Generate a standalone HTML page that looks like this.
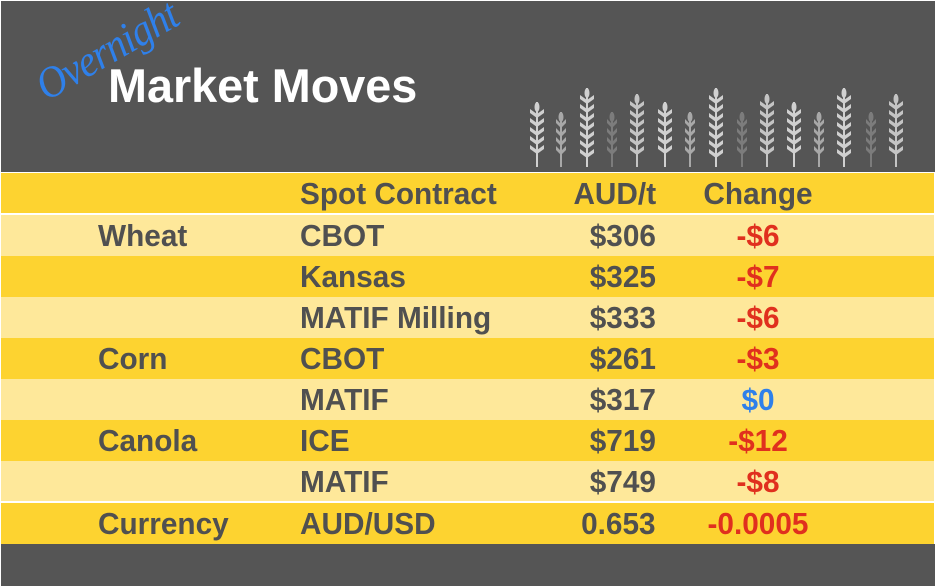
<!DOCTYPE html>
<html><head><meta charset="utf-8"><style>
body{margin:0;width:935px;height:586px;background:#fff;overflow:hidden;font-family:"Liberation Sans",sans-serif}
#wrap{position:absolute;left:1px;top:1px;width:934px;height:585px;background:#555555}
.row{position:absolute;left:1px;width:933px;height:41px;font-weight:bold;font-size:31px;color:#505050}
.row span{position:absolute;top:3px;white-space:nowrap;transform:scaleX(0.96)}
.d{background:#FDD330}.l{background:#FEE89A}
.a{left:97px;transform-origin:left}.b{left:299px;transform-origin:left}.c{right:278px;text-align:right;transform-origin:right}.e{left:700px;width:114px;text-align:center;transform-origin:center}
.r{color:#E0301E}.bl{color:#2F80EA}
</style></head><body><div id="wrap"></div>
<div style="position:absolute;left:1px;top:172px;width:934px;height:372px;background:#fff"></div>
<div style="position:absolute;left:108px;top:58px;font-size:47px;font-weight:bold;color:#fff;transform:scaleX(0.995);transform-origin:left;white-space:nowrap">Market Moves</div>
<div style="position:absolute;left:52px;top:60px;font-size:44px;font-style:italic;color:#2F80EA;font-family:'Liberation Serif',serif;transform:rotate(-30deg) scaleX(0.92);transform-origin:left bottom;letter-spacing:-1px;white-space:nowrap">Overnight</div>
<svg style="position:absolute;left:0;top:0" width="935" height="172">
<g id="st"></g>
</svg>
<script>
var xs=[537,561,587,612,637,665,690,716,742,767,794,819,844,871,896];
var tops=[102,112,88,112,94,102,112,88,112,94,102,112,88,112,94];
var cols=['#d0d0d0','#a8a8a8','#d0d0d0','#7c7c7c','#c4c4c4','#d0d0d0','#a8a8a8','#d0d0d0','#7c7c7c','#c4c4c4','#d0d0d0','#a8a8a8','#d0d0d0','#7c7c7c','#c4c4c4'];
var s='';
for(var i=0;i<15;i++){var x=xs[i],t=tops[i],c=cols[i],w=(t==112?5:7);
s+='<line x1="'+x+'" y1="'+t+'" x2="'+x+'" y2="167" stroke="'+c+'" stroke-width="2"/>';
s+='<ellipse cx="'+x+'" cy="'+(t+5)+'" rx="2.5" ry="5" fill="'+c+'"/>';
for(var y=t+12;y<158;y+=9){s+='<path d="M'+(x-w)+' '+(y-5)+' L'+x+' '+(y)+' L'+(x+w)+' '+(y-5)+' L'+(x+w)+' '+(y-1)+' L'+x+' '+(y+4)+' L'+(x-w)+' '+(y-1)+'Z" fill="'+c+'"/>';}
}
document.getElementById('st').innerHTML=s;
</script>
<div class="row d" style="top:173px;height:40px"><span class="b">Spot Contract</span><span class="c">AUD/t</span><span class="e">Change</span></div>
<div class="row l" style="top:215px"><span class="a">Wheat</span><span class="b">CBOT</span><span class="c">$306</span><span class="e r">-$6</span></div>
<div class="row d" style="top:256px"><span class="b">Kansas</span><span class="c">$325</span><span class="e r">-$7</span></div>
<div class="row l" style="top:297px"><span class="b">MATIF Milling</span><span class="c">$333</span><span class="e r">-$6</span></div>
<div class="row d" style="top:338px"><span class="a">Corn</span><span class="b">CBOT</span><span class="c">$261</span><span class="e r">-$3</span></div>
<div class="row l" style="top:379px"><span class="b">MATIF</span><span class="c">$317</span><span class="e bl">$0</span></div>
<div class="row d" style="top:420px"><span class="a">Canola</span><span class="b">ICE</span><span class="c">$719</span><span class="e r">-$12</span></div>
<div class="row l" style="top:461px;height:40px"><span class="b">MATIF</span><span class="c">$749</span><span class="e r">-$8</span></div>
<div class="row d" style="top:503px"><span class="a">Currency</span><span class="b">AUD/USD</span><span class="c">0.653</span><span class="e r">-0.0005</span></div>
</body></html>
